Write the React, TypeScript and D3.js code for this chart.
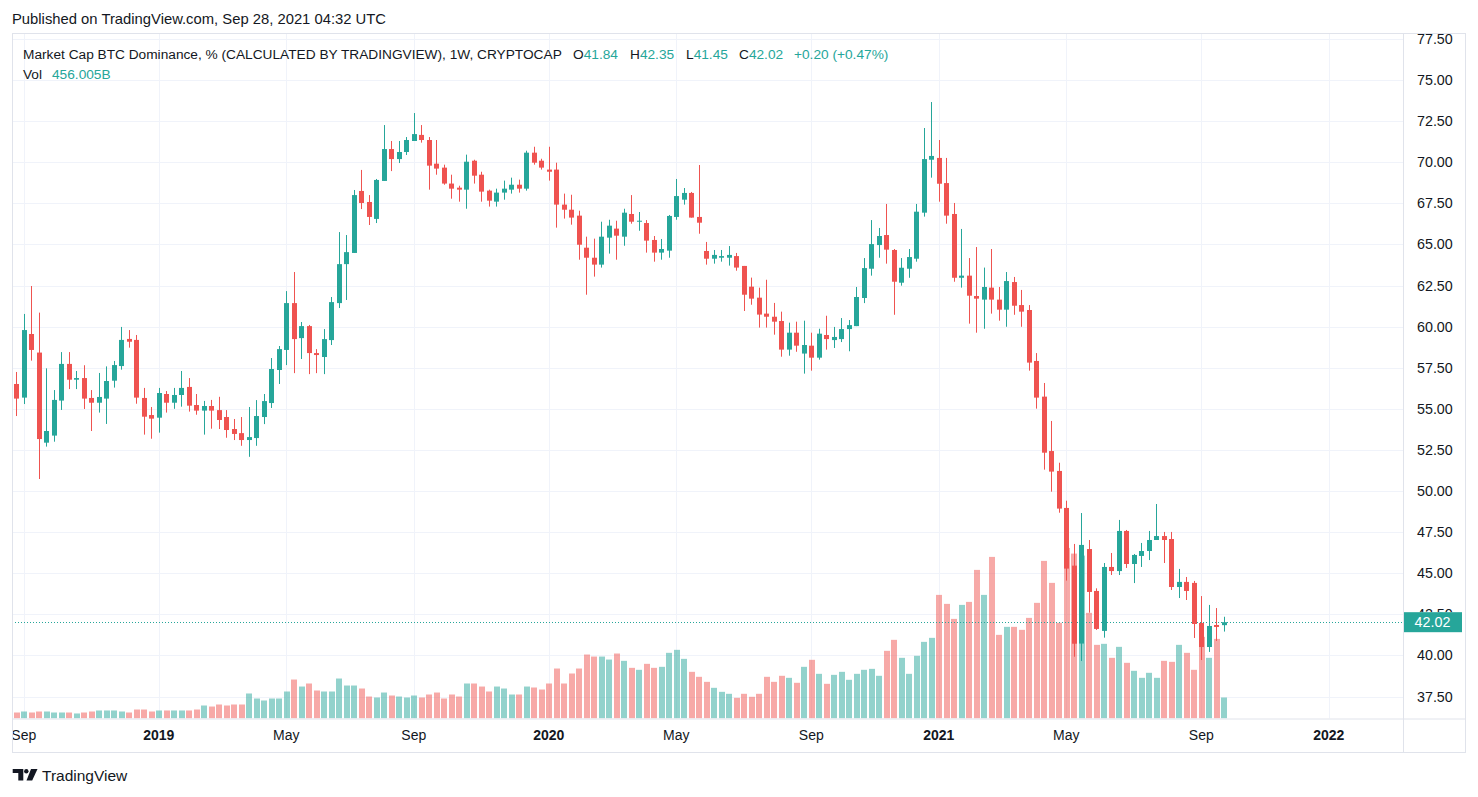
import React from "react";
import * as d3 from "d3";

// ---- DATA (weekly candles, Market Cap BTC Dominance %, from week of Aug 27 2018) ----
const startDate = new Date(Date.UTC(2018, 7, 27));

const opens = [
  56.51, 55.68, 59.55, 58.42, 52.94, 53.37, 55.5, 57.73, 56.77, 56.87,
  55.66, 55.37, 55.62, 56.71, 57.6, 59.25, 59.19, 55.66, 54.62, 54.46,
  55.9, 55.37, 55.84, 56.33, 55.23, 54.89, 55.17, 54.92, 54.5, 53.77,
  53.52, 53.1, 53.22, 54.5, 55.35, 57.36, 58.58, 61.43, 59.3, 60.03,
  58.39, 58.15, 59.18, 61.43, 63.8, 64.48, 68.25, 67.58, 66.55, 68.86,
  70.8, 70.19, 70.62, 71.29, 71.66, 71.35, 69.91, 69.67, 68.7, 68.45,
  68.33, 70.09, 69.24, 68.27, 67.6, 68.15, 68.33, 68.63, 68.39, 70.58,
  70.09, 69.55, 69.55, 67.42, 67.11, 66.75, 64.8, 64.19, 63.77, 65.41,
  65.96, 65.47, 66.85, 66.38, 66.3, 65.27, 64.5, 64.62, 66.67, 67.72,
  68.13, 66.67, 64.6, 64.13, 64.19, 64.19, 64.29, 63.69, 62.43, 61.76,
  60.79, 60.6, 60.34, 58.6, 59.63, 58.36, 58.84, 58.11, 59.49, 59.18,
  59.24, 59.85, 60.03, 61.74, 63.52, 64.96, 65.57, 64.66, 62.67, 63.52,
  64.13, 66.93, 70.15, 70.26, 68.73, 66.85, 62.97, 63.1, 61.86, 61.64,
  62.37, 61.64, 61.03, 62.71, 61.31, 61.01, 57.91, 55.74, 52.43, 51.22,
  48.97, 45.46, 40.72, 46.47, 43.92, 41.49, 45.38, 45.13, 47.57, 45.56,
  46.05, 46.35, 47.02, 47.26, 47.08, 44.16, 44.47, 44.41, 41.97, 40.51,
  41.85, 41.84,
];
const highs = [
  57.24, 60.77, 62.47, 60.85, 57.46, 56.14, 58.45, 58.45, 57.3, 57.65,
  56.14, 57.18, 57.58, 57.91, 59.98, 59.79, 59.49, 56.27, 55.11, 56.27,
  56.08, 56.27, 57.3, 56.87, 55.9, 55.48, 55.54, 55.73, 54.92, 54.38,
  54.5, 55.11, 55.53, 55.9, 58.09, 58.82, 62.16, 63.32, 60.28, 60.1,
  58.63, 59.85, 61.8, 65.75, 65.57, 68.31, 69.53, 68.0, 68.98, 72.26,
  71.29, 71.29, 71.53, 72.99, 72.26, 71.53, 71.35, 69.85, 69.24, 68.57,
  70.46, 70.15, 69.42, 68.33, 68.39, 68.88, 69.06, 68.94, 70.7, 70.94,
  70.21, 70.94, 69.97, 68.09, 68.02, 67.05, 65.47, 65.35, 66.38, 66.5,
  66.44, 67.17, 68.0, 66.97, 66.48, 65.51, 65.33, 66.79, 68.98, 68.43,
  68.19, 69.83, 65.15, 64.66, 64.66, 64.9, 64.48, 63.69, 62.98, 62.37,
  62.85, 61.44, 60.91, 60.24, 60.3, 60.36, 59.63, 59.87, 60.66, 59.98,
  60.52, 60.4, 62.41, 64.17, 66.48, 66.0, 67.46, 64.72, 64.17, 64.72,
  67.46, 72.08, 73.66, 71.35, 70.26, 67.52, 65.94, 64.17, 64.84, 63.59,
  64.72, 62.41, 63.32, 63.02, 62.23, 61.31, 58.39, 56.57, 54.26, 51.72,
  49.41, 46.78, 48.66, 47.02, 44.08, 45.62, 46.23, 48.24, 47.63, 46.17,
  46.84, 47.57, 49.21, 47.51, 47.51, 45.26, 44.77, 44.53, 43.61, 43.07,
  42.88, 42.35,
];
const lows = [
  54.56, 55.29, 57.93, 50.73, 52.7, 53.0, 54.93, 56.2, 56.2, 54.99,
  53.65, 54.77, 54.08, 56.29, 57.38, 58.72, 55.31, 53.43, 53.18, 53.55,
  54.77, 55.0, 55.13, 54.83, 54.64, 53.43, 53.79, 53.77, 53.24, 53.1,
  52.75, 52.08, 52.75, 54.07, 55.05, 56.51, 57.66, 57.17, 58.03, 57.11,
  57.17, 57.11, 58.88, 61.13, 61.62, 64.48, 67.15, 66.18, 66.3, 68.86,
  69.46, 69.95, 70.44, 71.29, 71.19, 68.33, 69.24, 68.63, 67.78, 67.6,
  67.17, 68.7, 67.6, 67.3, 67.3, 67.72, 68.09, 68.15, 68.27, 69.85,
  69.55, 68.88, 66.02, 66.57, 66.2, 64.07, 61.94, 63.04, 63.59, 64.44,
  64.07, 64.92, 66.26, 65.83, 64.5, 63.95, 64.07, 64.19, 66.5, 67.42,
  66.63, 65.65, 63.77, 63.83, 63.95, 63.71, 63.4, 60.95, 61.33, 59.94,
  59.94, 59.51, 58.17, 58.23, 58.47, 57.14, 57.32, 57.99, 58.6, 58.7,
  59.06, 58.5, 60.03, 61.43, 63.1, 64.19, 63.83, 60.72, 62.49, 62.97,
  63.95, 66.69, 69.06, 67.6, 66.26, 62.73, 62.37, 60.18, 59.63, 59.87,
  60.79, 60.36, 59.99, 60.72, 59.99, 57.32, 55.01, 51.3, 49.96, 48.68,
  44.55, 39.92, 39.66, 42.6, 41.55, 41.08, 44.89, 44.89, 45.32, 44.4,
  45.38, 45.8, 47.02, 45.62, 43.98, 43.49, 43.37, 41.06, 39.72, 40.21,
  40.88, 41.45,
];
const closes = [
  55.62, 59.79, 58.58, 53.16, 53.65, 55.54, 57.73, 56.77, 56.87, 55.62,
  55.37, 55.72, 56.69, 57.66, 59.19, 59.08, 55.68, 54.52, 54.4, 55.96,
  55.37, 55.84, 56.27, 55.19, 54.89, 55.17, 54.89, 54.32, 53.71, 53.47,
  53.1, 53.28, 54.56, 55.47, 57.42, 58.63, 61.43, 59.24, 60.03, 58.39,
  58.27, 59.24, 61.49, 63.8, 64.53, 68.0, 67.52, 66.67, 68.92, 70.8,
  70.19, 70.62, 71.35, 71.71, 71.35, 69.79, 69.61, 68.7, 68.39, 68.33,
  70.03, 69.18, 68.21, 67.66, 68.15, 68.39, 68.63, 68.39, 70.58, 69.97,
  69.67, 69.42, 67.42, 67.11, 66.63, 64.98, 64.19, 63.77, 65.47, 66.14,
  65.53, 66.93, 66.38, 66.44, 65.23, 64.5, 64.72, 66.73, 67.94, 68.13,
  66.63, 66.32, 64.13, 64.36, 64.29, 64.36, 63.59, 61.94, 61.7, 60.73,
  60.6, 60.3, 58.6, 59.63, 58.84, 58.88, 58.11, 59.57, 59.24, 59.37,
  59.85, 60.09, 61.8, 63.56, 65.02, 65.51, 64.68, 62.73, 63.58, 64.23,
  66.99, 70.19, 70.38, 68.69, 66.75, 62.97, 63.1, 61.88, 61.7, 62.41,
  61.64, 61.03, 62.77, 61.27, 60.91, 57.81, 55.68, 52.33, 51.18, 48.93,
  45.28, 40.71, 46.72, 43.86, 41.61, 45.38, 45.13, 47.57, 45.56, 46.11,
  46.35, 47.02, 47.26, 47.02, 44.16, 44.47, 43.92, 41.91, 40.51, 41.79,
  41.73, 42.02,
];
// weekly volume, billions
const volumes = [
  130, 152, 130, 152, 152, 130, 130, 130, 109, 130,
  152, 174, 174, 174, 152, 130, 195, 195, 152, 174,
  174, 174, 174, 174, 195, 282, 260, 304, 282, 304,
  304, 543, 434, 391, 434, 434, 586, 846, 694, 760,
  608, 586, 586, 868, 716, 716, 651, 477, 456, 564,
  499, 477, 456, 499, 456, 521, 564, 434, 521, 477,
  760, 760, 694, 586, 694, 651, 521, 521, 694, 673,
  629, 760, 1085, 760, 977, 1085, 1389, 1345, 1345, 1280,
  1411, 1252, 1100, 1057, 1187, 1100, 1122, 1426, 1491, 1295,
  1013, 905, 796, 666, 579, 536, 449, 536, 471, 536,
  905, 796, 927, 883, 775, 1122, 1274, 970, 753, 948,
  1013, 840, 970, 1057, 1078, 927, 1469, 1708, 1317, 970,
  1361, 1664, 1751, 2684, 2489, 2163, 2467, 2532, 3227, 2684,
  3509, 1816, 1990, 1990, 1925, 2185, 2511, 3422, 2945, 2077,
  3704, 3581, 3537, 2294, 1599, 1621, 1317, 1556, 1209, 1035,
  883, 992, 883, 1252, 1230, 1599, 1426, 1057, 1773, 1317,
  1729, 456.005,
];

const priceTicks = [37.5, 40, 42.5, 45, 47.5, 50, 52.5, 55, 57.5, 60, 62.5, 65, 67.5, 70, 72.5, 75, 77.5];
const timeTickDates = ["2018-09-03", "2019-01-07", "2019-05-06", "2019-09-02", "2020-01-06", "2020-05-04", "2020-09-07", "2021-01-04", "2021-05-03", "2021-09-06", "2022-01-03"];
const timeTickLabels = ["Sep", "2019", "May", "Sep", "2020", "May", "Sep", "2021", "May", "Sep", "2022"];
const timeTickIsYear = [false, true, false, false, true, false, false, true, false, false, true];

const lastClose = 42.02;
const lastVolumeText = "456.005B";
const legendTitle = "Market Cap BTC Dominance, % (CALCULATED BY TRADINGVIEW), 1W, CRYPTOCAP";
const legendOHLC = [
  { k: "O", v: "41.84" },
  { k: "H", v: "42.35" },
  { k: "L", v: "41.45" },
  { k: "C", v: "42.02" },
];
const legendChange = "+0.20 (+0.47%)";

// ---- STYLE ----
const UP = "#26a69a";
const DOWN = "#ef5350";
const UP_VOL = "rgba(38,166,154,0.5)";
const DOWN_VOL = "rgba(239,83,80,0.5)";
const TEXT = "#131722";
const GRID = "#f0f3fa";
const FRAME = "#e0e3eb";
const FONT = "'Liberation Sans', Arial, sans-serif";

const W = 1478;
const H = 797;
const paneL = 12;
const paneR = 1465;
const paneT = 33;
const paneB = 752;
const axisX = 1403;
const plotB = 718.5;

export default function App() {
  const x = d3
    .scaleUtc()
    .domain([startDate, d3.utcMonday.offset(startDate, 175)])
    .range([16.3, 16.3 + 175 * 7.5]);
  const y = d3.scaleLinear().domain([37.5, 77.5]).range([696.5, 38.9]);
  const vy = d3.scaleLinear().domain([0, 456.005]).range([plotB, plotB - 21]);

  const candles = opens.map((o, i) => ({
    date: d3.utcMonday.offset(startDate, i),
    o,
    h: highs[i],
    l: lows[i],
    c: closes[i],
    vol: volumes[i],
  }));

  const parse = d3.utcParse("%Y-%m-%d");
  const ticks = timeTickDates.map((d, i) => ({
    x: x(parse(d) as Date),
    label: timeTickLabels[i],
    year: timeTickIsYear[i],
  }));

  const lastY = y(lastClose);
  const boxTop = lastY - 10;
  const visibleTicks = priceTicks.filter((p) => Math.abs(y(p) - lastY) > 14);
  const coveredTicks = priceTicks.filter((p) => Math.abs(y(p) - lastY) <= 14);

  return (
    <svg
      width={W}
      height={H}
      style={{ position: "absolute", left: 0, top: 0, background: "#fff" }}
      fontFamily={FONT}
    >
      <defs>
        <clipPath id="plotClip">
          <rect x={paneL + 1} y={paneT + 1} width={axisX - paneL - 1} height={plotB - paneT - 1} />
        </clipPath>
        <clipPath id="axisClip">
          <rect x={axisX + 1} y={paneT + 1} width={paneR - axisX - 1} height={plotB - paneT - 1} />
        </clipPath>
        <clipPath id="aboveBoxClip">
          <rect x={axisX + 1} y={boxTop - 12} width={paneR - axisX - 1} height={12} />
        </clipPath>
        <clipPath id="timeClip">
          <rect x={paneL + 1} y={plotB} width={axisX - paneL - 1} height={paneB - plotB} />
        </clipPath>
      </defs>
      <rect x={0} y={0} width={W} height={H} fill="#fff" />

      {/* header */}
      <text x={12} y={24} fontSize={14.8} fill={TEXT}>
        Published on TradingView.com, Sep 28, 2021 04:32 UTC
      </text>

      {/* grid */}
      <g clipPath="url(#plotClip)">
        {priceTicks.map((p) => (
          <line key={"hg" + p} x1={paneL} x2={axisX} y1={Math.round(y(p)) + 0.5} y2={Math.round(y(p)) + 0.5} stroke={GRID} strokeWidth={1} />
        ))}
        {ticks.map((t) => (
          <line key={"vg" + t.label + t.x} x1={Math.round(t.x) + 0.5} x2={Math.round(t.x) + 0.5} y1={paneT} y2={plotB} stroke={GRID} strokeWidth={1} />
        ))}

        {/* volume */}
        {candles.map((d, i) => {
          const cx = x(d.date);
          const top = vy(d.vol);
          const left = Math.round(cx - 2.75);
          return (
            <rect
              key={"v" + i}
              x={left}
              y={top}
              width={6}
              height={plotB - top}
              fill={d.c >= d.o ? UP_VOL : DOWN_VOL}
            />
          );
        })}

        {/* last price dotted line */}
        <line x1={paneL} x2={axisX} y1={Math.round(lastY) + 0.5} y2={Math.round(lastY) + 0.5} stroke={UP} strokeWidth={1} strokeDasharray="1 2" />

        {/* candles */}
        {candles.map((d, i) => {
          const cx = Math.round(x(d.date));
          const up = d.c >= d.o;
          const col = up ? UP : DOWN;
          const bTop = y(Math.max(d.o, d.c));
          const bBot = y(Math.min(d.o, d.c));
          return (
            <g key={"c" + i}>
              <rect x={cx} y={y(d.h)} width={1} height={y(d.l) - y(d.h)} fill={col} />
              <rect x={cx - 2} y={bTop} width={5} height={Math.max(1, bBot - bTop)} fill={col} />
            </g>
          );
        })}
      </g>

      {/* legend */}
      <text x={23} y={59} fontSize={13.7} fill={TEXT}>
        {legendTitle}
      </text>
      {legendOHLC.map((it, i) => {
        const xs = [573, 630, 686, 739];
        return (
          <text key={"lg" + i} x={xs[i]} y={59} fontSize={13.7} fill={TEXT}>
            {it.k}
            <tspan fill={UP}>{it.v}</tspan>
          </text>
        );
      })}
      <text x={794} y={59} fontSize={13.7} fill={UP}>
        {legendChange}
      </text>
      <text x={23} y={79} fontSize={13.7} fill={TEXT}>
        Vol
        <tspan x={52} fill={UP}>
          {lastVolumeText}
        </tspan>
      </text>

      {/* price axis */}
      <g clipPath="url(#axisClip)">
        {visibleTicks.map((p) => (
          <text key={"pt" + p} x={1417} y={y(p)} dy="0.35em" fontSize={14.3} fill={TEXT}>
            {p.toFixed(2)}
          </text>
        ))}
      </g>
      {/* tick label mostly covered by the last-price box: only its top edge shows */}
      <g clipPath="url(#aboveBoxClip)">
        {coveredTicks.map((p) => (
          <text key={"cp" + p} x={1417} y={y(p)} dy="0.35em" fontSize={14.3} fill={TEXT}>
            {p.toFixed(2)}
          </text>
        ))}
      </g>
      <rect x={axisX} y={boxTop} width={59} height={20} fill={UP} />
      <text x={axisX + 29.5} y={lastY} dy="0.35em" fontSize={14.3} fill="#fff" textAnchor="middle">
        {lastClose.toFixed(2)}
      </text>

      {/* time axis */}
      <g clipPath="url(#timeClip)">
        {ticks.map((t) => (
          <text
            key={"tt" + t.label + t.x}
            x={t.x}
            y={740}
            fontSize={14}
            fontWeight={t.year ? "bold" : "normal"}
            fill={TEXT}
            textAnchor="middle"
          >
            {t.label}
          </text>
        ))}
      </g>

      {/* frame */}
      <rect x={paneL + 0.5} y={paneT + 0.5} width={paneR - paneL} height={paneB - paneT} fill="none" stroke={FRAME} strokeWidth={1} />
      <line x1={axisX + 0.5} x2={axisX + 0.5} y1={paneT} y2={paneB} stroke={FRAME} strokeWidth={1} />
      <line x1={paneL} x2={paneR} y1={plotB + 0.5} y2={plotB + 0.5} stroke={FRAME} strokeWidth={1} />

      {/* logo */}
      <g fill={TEXT}>
        <path d="M12.7 769 H23.3 V780.5 H18.3 V773 H12.7 Z" />
        <circle cx={26.3} cy={771.2} r={2.2} />
        <path d="M31 769 H37.5 L32.2 780.5 H26.5 Z" />
      </g>
      <text x={42} y={781} fontSize={15.5} fill={TEXT}>
        TradingView
      </text>
    </svg>
  );
}
